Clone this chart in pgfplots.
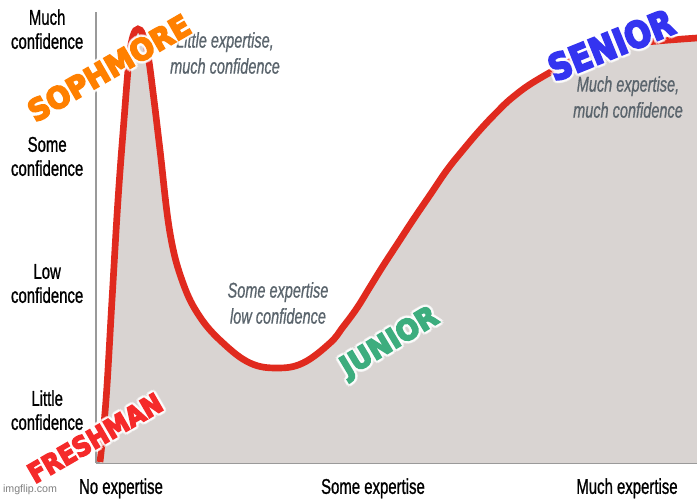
\documentclass[border=0pt]{standalone}
\usepackage{pgfplots}
\pgfplotsset{compat=1.18}
\usepackage{pgfplotstable}
\usepackage{graphicx}
\usepackage{fontspec}
\setmainfont{Liberation Sans}
\newfontfamily\labelfont{Liberation Sans}[UprightFeatures={FakeBold=1.2},ItalicFeatures={FakeBold=1.0}]
\newfontfamily\heavy{DejaVu Sans}[UprightFeatures={FakeBold=6},BoldFeatures={FakeBold=6}]
\definecolor{curvered}{HTML}{E02A1E}
\definecolor{areagray}{HTML}{D9D4D2}
\definecolor{axisgray}{HTML}{9A9A9A}
\definecolor{notegray}{HTML}{5A646C}
\definecolor{sophorange}{HTML}{FF8000}
\definecolor{freshred}{HTML}{F52A2A}
\definecolor{juniorgreen}{HTML}{3DAD7E}
\definecolor{seniorblue}{HTML}{3434F0}
\newcommand\cond[1]{\scalebox{0.70}[1]{#1}}
\newcommand\note[1]{\scalebox{0.68}[1]{#1}}
\newcommand\fat[1]{{\heavy\bfseries #1}}
\newcommand\glowtext[4]{%
  \node[white,opacity=0.55,rotate=#2,xshift=2pt] at (#1) {#4};
  \node[white,opacity=0.55,rotate=#2,xshift=-2pt] at (#1) {#4};
  \node[white,opacity=0.55,rotate=#2,yshift=2pt] at (#1) {#4};
  \node[white,opacity=0.55,rotate=#2,yshift=-2pt] at (#1) {#4};
  \node[white,opacity=0.55,rotate=#2,xshift=1.4pt,yshift=1.4pt] at (#1) {#4};
  \node[white,opacity=0.55,rotate=#2,xshift=-1.4pt,yshift=1.4pt] at (#1) {#4};
  \node[white,opacity=0.55,rotate=#2,xshift=1.4pt,yshift=-1.4pt] at (#1) {#4};
  \node[white,opacity=0.55,rotate=#2,xshift=-1.4pt,yshift=-1.4pt] at (#1) {#4};
  \node[#3,rotate=#2] at (#1) {#4};
}
\pgfplotstableread{
x y
4 1
10 63
16 163
22 263
28 343
33 403
37 427
42 434
47 428
52 408
58 363
64 313
74 230
87 180
104 146
127 120
154 100
181 95
207 100
234 120
247 136
261 155
274 176
287 197
302 220
317 243
334 268
351 293
367 313
384 333
401 351
417 366
441 383
484 406
517 416
551 421
601 425
}\curve
\begin{document}
\begin{tikzpicture}
\begin{axis}[
  scale only axis,
  width=450.75pt, height=338.25pt,
  xmin=0, xmax=601, ymin=0, ymax=451,
  clip=false,
  axis x line=bottom, axis y line=left,
  axis line style={-, draw=axisgray, line width=2pt},
  major tick length=0pt,
  tick style={draw=none},
  ticklabel style={font=\labelfont\fontsize{16}{18}\selectfont, text=black},
  xtick={25,277,531},
  xticklabels={\cond{No expertise},\cond{Some expertise},\cond{Much expertise}},
  xticklabel style={yshift=-8pt},
  ytick={50,177,304,431},
  yticklabels={
    {\cond{\begin{tabular}{@{}c@{}}Little\\confidence\end{tabular}}},
    {\cond{\begin{tabular}{@{}c@{}}Low\\confidence\end{tabular}}},
    {\cond{\begin{tabular}{@{}c@{}}Some\\confidence\end{tabular}}},
    {\cond{\begin{tabular}{@{}c@{}}Much\\confidence\end{tabular}}}},
  yticklabel style={xshift=-6pt},
]
\addplot[fill=areagray, draw=none, smooth, tension=0.65] table {\curve} \closedcycle;
\addplot[curvered, line width=5pt, smooth, tension=0.65] table {\curve};

\node[notegray, align=center, font=\labelfont\fontsize{16}{19.5}\selectfont\itshape] at (axis cs:129,410)
  {\note{Little expertise,}\\\note{much confidence}};
\node[notegray, align=center, font=\labelfont\fontsize{16}{19.5}\selectfont\itshape] at (axis cs:182,160)
  {\note{Some expertise}\\\note{low confidence}};
\node[notegray, align=center, font=\labelfont\fontsize{16}{19.5}\selectfont\itshape] at (axis cs:532,366)
  {\note{Much expertise,}\\\note{much confidence}};

\glowtext{axis cs:13,395}{30}{sophorange}{\resizebox{136.5pt}{16.5pt}{\fat{SOPHMORE}}}
\glowtext{axis cs:-1,25}{30}{freshred}{\resizebox{112.5pt}{15pt}{\fat{FRESHMAN}}}
\glowtext{axis cs:294,120}{31}{juniorgreen}{\resizebox{81pt}{15.75pt}{\fat{JUNIOR}}}
\glowtext{axis cs:515,418}{22}{seniorblue}{\resizebox{99pt}{20pt}{\fat{SENIOR}}}

\node[gray, font=\fontsize{8}{9}\selectfont] at (axis cs:-66,-27) {imgflip.com};

\coordinate (bbA) at (axis cs:-96,-37);
\coordinate (bbB) at (axis cs:601,463);
\end{axis}
\pgfresetboundingbox
\useasboundingbox (bbA) rectangle (bbB);
\end{tikzpicture}
\end{document}
